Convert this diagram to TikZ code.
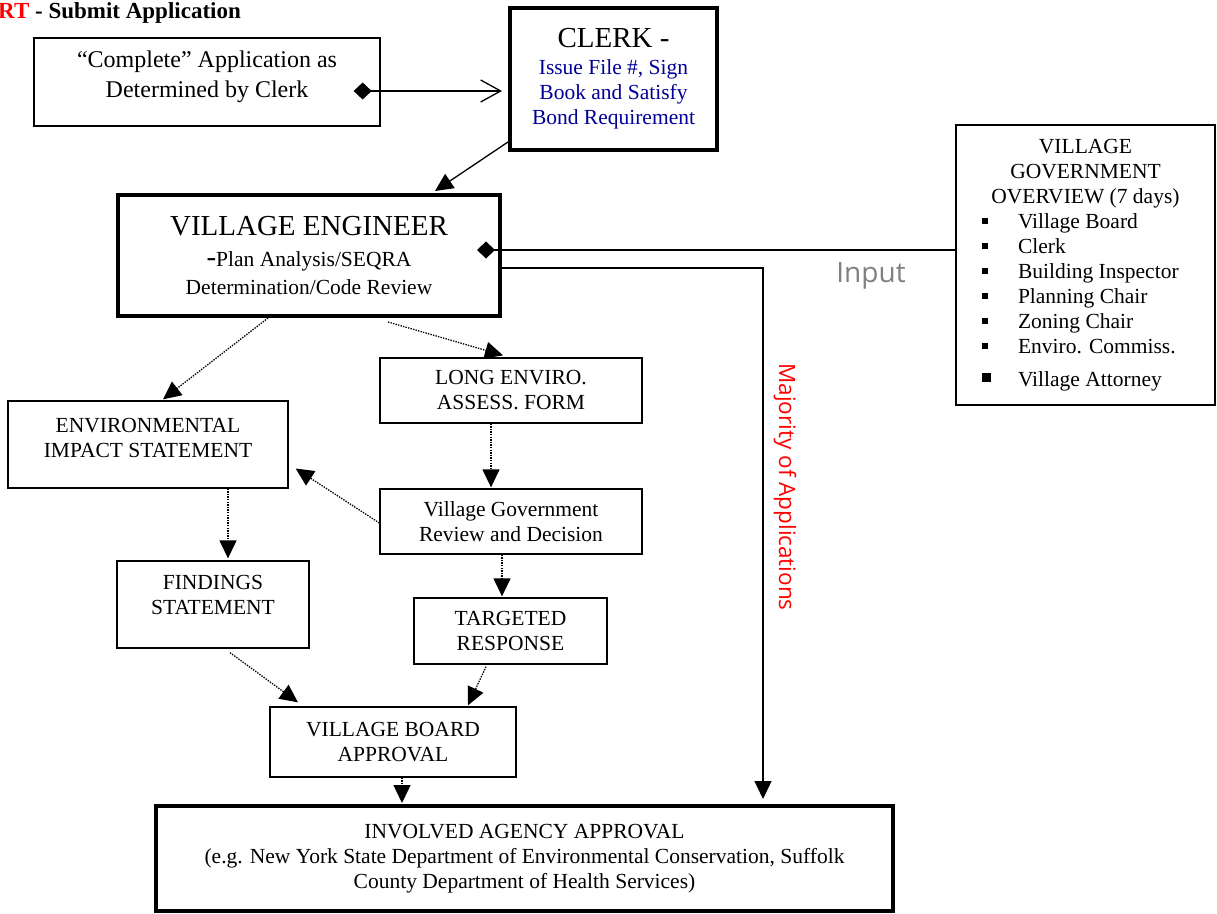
\documentclass[tikz,border=0pt]{standalone}
\usepackage{fontspec}
\setmainfont{Liberation Serif}
\newfontfamily\sansfont{Open Sans}
\usetikzlibrary{calc, arrows.meta}

\definecolor{clerkblue}{RGB}{0,0,153}
\definecolor{inputgray}{RGB}{128,128,128}

\tikzset{
  box/.style={draw, line width=1.3pt, align=center, inner sep=0pt,
    font=\fontsize{21.5}{25}\selectfont},
  bigbox/.style={box, line width=4pt},
  flow/.style={line width=1.3pt, -{Triangle[length=18pt,width=17pt]}},
  dotflow/.style={flow, dash pattern=on 1.4pt off 1.2pt},
  lifted/.style={text depth=#1}
}
\newcommand{\bul}[1][6pt]{\hspace*{21.5pt}\makebox[36pt][l]{\raisebox{4pt}{\rule{#1}{#1}}}}

\begin{document}
\begin{tikzpicture}[x=1pt,y=-1pt]
\useasboundingbox (0,0) rectangle (1217,913);
\fill[white] (0,0) rectangle (1217,913);

% title
\node [anchor=base west, inner sep=0pt, font=\fontsize{23}{25}\selectfont\bfseries] (title) at (-2,18) {\textcolor{red}{RT} - Submit Application};

% boxes
\node [box, minimum width=346, minimum height=88, lifted=15pt,
  font=\fontsize{24}{29}\selectfont] (app) at (207,82) {“Complete” Application as\\[1pt]Determined by Clerk};
\node [bigbox, minimum width=207, minimum height=142] (clerk) at (613.5,79) {{\fontsize{29}{30}\selectfont CLERK -}\\[2pt]
  \textcolor{clerkblue}{Issue File \#, Sign}\\\textcolor{clerkblue}{Book and Satisfy}\\\textcolor{clerkblue}{Bond Requirement}};
\node [bigbox, minimum width=382, minimum height=121] (ve) at (309,255.5) {{\fontsize{29}{30}\selectfont VILLAGE ENGINEER}\\[6pt]
  {\fontsize{29}{20}\selectfont -}Plan Analysis/SEQRA\\[3pt]Determination/Code Review};
\node [box, minimum width=259, minimum height=280] (overview) at (1085.5,265) {\parbox{250pt}{\centering
  VILLAGE\\GOVERNMENT\\OVERVIEW (7 days)\par\raggedright
  \bul Village Board\\\bul Clerk\\\bul Building Inspector\\\bul Planning Chair\\
  \bul Zoning Chair\\\bul Enviro. Commiss.\\[8pt]\bul[9pt]Village Attorney}};
\node [box, minimum width=280, minimum height=87, lifted=14pt] (eis) at (148,444.5) {ENVIRONMENTAL\\IMPACT STATEMENT};
\node [box, minimum width=262, minimum height=65] (leaf) at (511,390.5) {LONG ENVIRO.\\ASSESS. FORM};
\node [box, minimum width=262, minimum height=65] (vgrd) at (511,521.5) {Village Government\\Review and Decision};
\node [box, minimum width=192, minimum height=87, lifted=19pt] (find) at (213,604.5) {FINDINGS\\STATEMENT};
\node [box, minimum width=193, minimum height=66] (targ) at (510.5,631) {TARGETED\\RESPONSE};
\node [box, minimum width=246, minimum height=70] (vba) at (393,742) {VILLAGE BOARD\\APPROVAL};
\node [bigbox, minimum width=737, minimum height=105] (iaa) at (524.5,858.5) {INVOLVED AGENCY APPROVAL\\
  (e.g. New York State Department of Environmental Conservation, Suffolk\\County Department of Health Services)};

% side labels
\node [font=\sansfont\fontsize{28}{30}\selectfont, text=inputgray] (input) at (871,276) {Input};
\node [font=\sansfont\fontsize{22.5}{25}\selectfont, text=red, rotate=-90] (majority) at (785,487) {Majority of Applications};

% solid connectors
\coordinate (appD) at ($(app.east)+(-27,9)$);
\draw [line width=1.3pt, {Diamond[length=18pt,width=17pt]}-{Straight Barb[length=20pt,width=22pt,line width=1.3pt]}]
  (appD) -- ($(appD -| clerk.west)+(-6,0)$);
\draw [flow] ($(clerk.south west)+(0,-10)$) -- ($(ve.north)+(126,-2)$);
\coordinate (veD) at ($(ve.east)+(-25,-5.5)$);
\draw [line width=1.3pt, {Diamond[length=18pt,width=17pt]}-] (veD) -- (veD -| overview.west);
\draw [flow] ($(ve.east)+(0,12.5)$) -| ($(iaa.north)+(238.5,-5)$);

% dotted connectors
\draw [dotflow] ($(ve.south)+(-41,0)$) -- ($(eis.north)+(15,-1)$);
\draw [dotflow] ($(ve.south)+(79,4)$) -- ($(leaf.north)+(-8,-2)$);
\draw [dotflow] ($(leaf.south)+(-20,0)$) -- ($(vgrd.north)+(-20,-1)$);
\draw [dotflow] ($(vgrd.west)+(0,1.5)$) -- ($(eis.east)+(7,24)$);
\draw [dotflow] ($(vgrd.south)+(-9,0)$) -- ($(targ.north)+(-8.5,-1)$);
\draw [dotflow] ($(eis.south)+(80,0)$) -- ($(find.north)+(15,-2)$);
\draw [dotflow] ($(find.south)+(17,4)$) -- ($(vba.north)+(-95,-4)$);
\draw [dotflow] ($(targ.south)+(-24.5,2)$) -- ($(vba.north)+(75,-1)$);
\draw [dotflow] ($(vba.south)+(9,0)$) -- ($(iaa.north)+(-122.5,-1)$);
\end{tikzpicture}
\end{document}
